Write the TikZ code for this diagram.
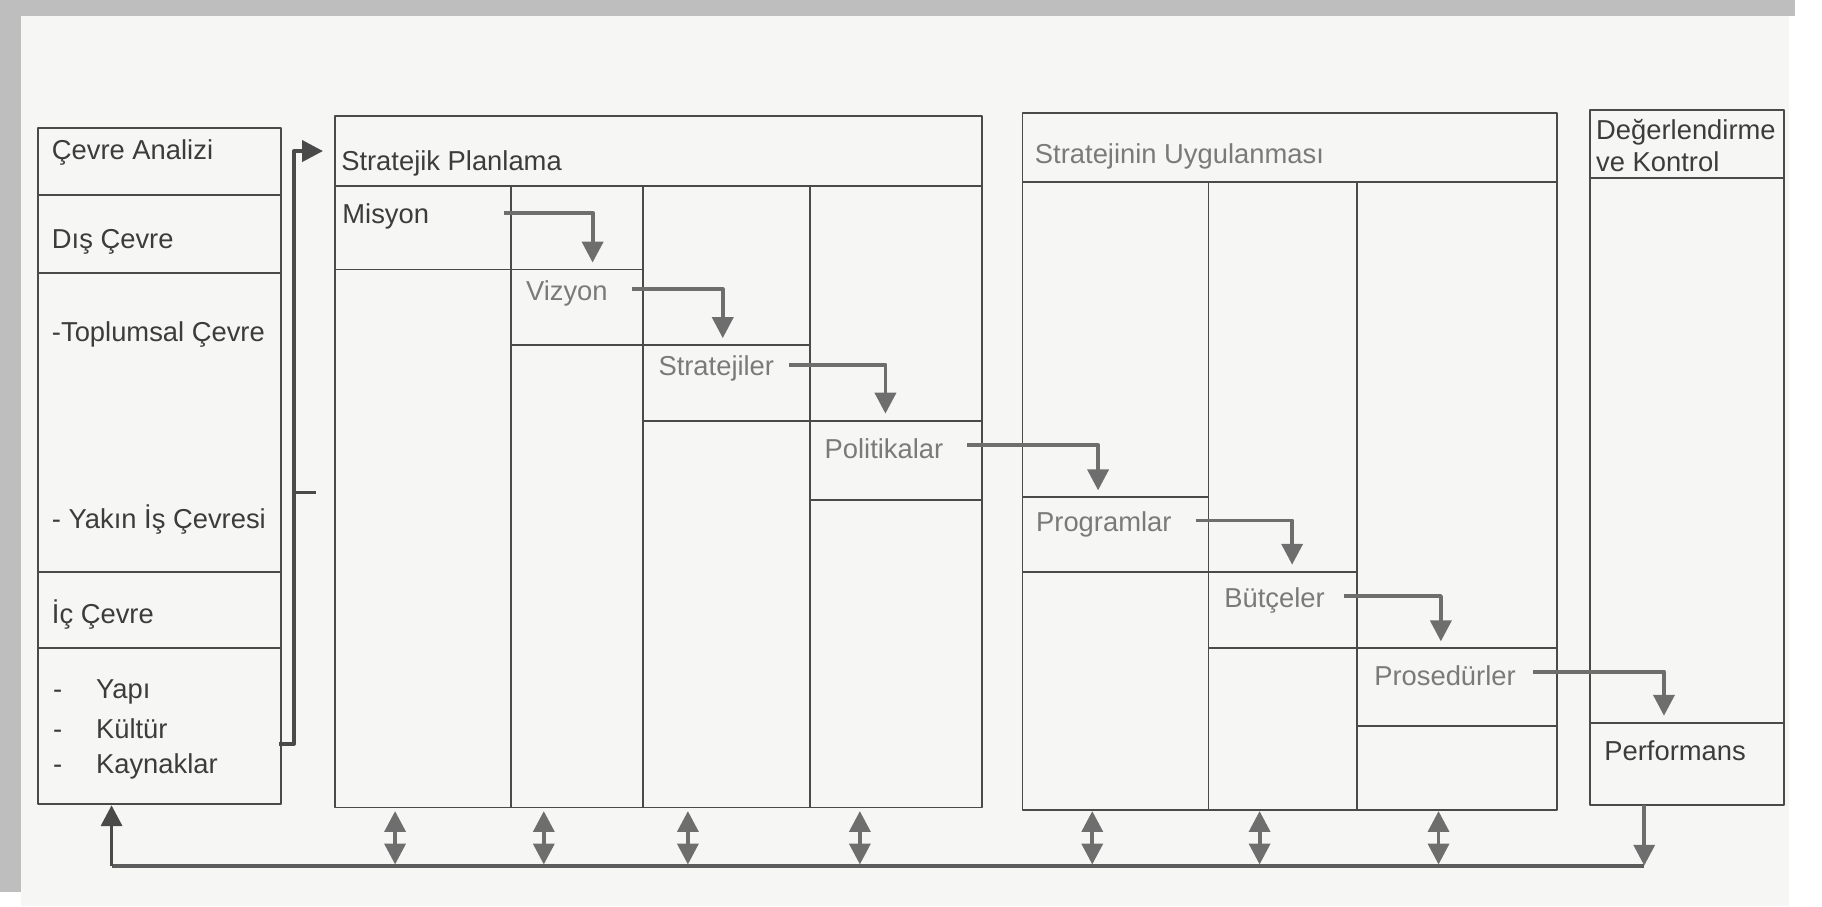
\documentclass[tikz,border=0pt]{standalone}
\usepackage{fontspec}
\setmainfont{Liberation Sans}
\usetikzlibrary{arrows.meta}

\definecolor{paper}{HTML}{F6F6F4}
\definecolor{band}{HTML}{BEBEBE}
\definecolor{linec}{HTML}{4A4A4A}
\definecolor{txtdark}{HTML}{3C3C3C}
\definecolor{txtgray}{HTML}{7A7A7A}
\definecolor{arrowc}{HTML}{6E6E6E}

\begin{document}
\begin{tikzpicture}[x=0.1mm, y=-0.1mm, font=\fontsize{6.7}{8}\selectfont, line join=round, >={Triangle[length=1.8mm,width=1.8mm]},
	box/.style={draw=linec, line width=0.45pt},
	lbl/.style={anchor=west, inner sep=0pt, text=txtdark, yshift=-0.35mm},
	lblg/.style={lbl, text=txtgray},
	flow/.style={draw=arrowc, line width=0.95pt, ->},
	both/.style={draw=arrowc, line width=0.95pt, <->}]
	% paper and scan edges
	\useasboundingbox (0,0) rectangle (1568,780);
	\fill[white] (0,0) rectangle (1568,780);
	\fill[paper] (18,14) rectangle (1540,780);
	\fill[band] (0,0) rectangle (1545,14);
	\fill[band] (0,0) rectangle (18,768);
	
	% Cevre analizi
	\draw[box] (33,110) rectangle (242,692);
	\foreach \y in {168,235,492,558} \draw[box] (33,\y) -- (242,\y);
	\node[lbl] (analiz) at (44,128) {Çevre Analizi};
	\node[lbl] (dis) at (44,205) {Dış Çevre};
	\node[lbl] (toplum) at (44,284) {-Toplumsal Çevre};
	\node[lbl] (yakin) at (44,444) {- Yakın İş Çevresi};
	\node[lbl] (ic) at (44,525) {İç Çevre};
	\foreach \t/\n/\y in {Yapı/yapi/592, Kültür/kultur/624, Kaynaklar/kaynak/656}{
		\node[lbl] at (45,\y) {\vphantom{\t}-};
		\node[lbl] (\n) at (82,\y) {\t};
	}
	
	% Stratejik planlama
	\draw[box] (288,100) rectangle (845,695);
	\draw[box] (288,160) -- (845,160);
	\foreach \x in {440,553,697} \draw[box] (\x,160) -- (\x,695);
	\draw[box] (288,232) -- (553,232);
	\draw[box] (440,297) -- (697,297);
	\draw[box] (553,362) -- (845,362);
	\draw[box] (697,430) -- (845,430);
	\node[lbl] (plan) at (293,137) {Stratejik Planlama};
	\node[lbl] (misyon) at (294,183) {Misyon};
	\node[lblg] (vizyon) at (452,249) {Vizyon};
	\node[lblg] (strat) at (566,314) {Stratejiler};
	\node[lblg] (polit) at (709,383) {Politikalar};
	
	% Stratejinin uygulanmasi
	\draw[box] (880,97) rectangle (1340,697);
	\draw[box] (880,157) -- (1340,157);
	\foreach \x in {1040,1168} \draw[box] (\x,157) -- (\x,697);
	\draw[box] (880,428) -- (1040,428);
	\draw[box] (880,492) -- (1168,492);
	\draw[box] (1040,558) -- (1340,558);
	\draw[box] (1168,625) -- (1340,625);
	\node[lblg] (uygula) at (890,131) {Stratejinin Uygulanması};
	\node[lblg] (program) at (891,448) {Programlar};
	\node[lblg] (butce) at (1053,513) {Bütçeler};
	\node[lblg] (prosed) at (1182,578) {Prosedürler};
	
	% Degerlendirme ve kontrol
	\draw[box] (1368,95) rectangle (1535,693);
	\draw[box] (1368,153) -- (1535,153);
	\draw[box] (1368,622) -- (1535,622);
	\node[lbl] (deger) at (1373,110) {Değerlendirme};
	\node[lbl] (kontrol) at (1373,136) {ve Kontrol};
	\node[lbl] (perf) at (1380,643) {Performans};
	
	% arrow targets
	\coordinate (tviz) at (510,226);
	\coordinate (tstr) at (622,291);
	\coordinate (tpol) at (762,356);
	\coordinate (tprg) at (945,422);
	\coordinate (tbut) at (1112,486);
	\coordinate (tpro) at (1240,552);
	\coordinate (tper) at (1432,616);
	\draw[flow] ([xshift=6.4mm,yshift=0.35mm]misyon.east) -| (tviz);
	\draw[flow] ([xshift=2mm,yshift=0.35mm]vizyon.east) -| (tstr);
	\draw[flow] ([xshift=1.2mm,yshift=0.35mm]strat.east) -| (tpol);
	\draw[flow] ([xshift=2mm,yshift=0.35mm]polit.east) -| (tprg);
	\draw[flow] ([xshift=2mm,yshift=0.35mm]program.east) -| (tbut);
	\draw[flow] ([xshift=1.6mm,yshift=0.35mm]butce.east) -| (tpro);
	\draw[flow] ([xshift=1.4mm,yshift=0.35mm]prosed.east) -| (tper);
	
	% bracket to planning
	\coordinate (brb) at (240,640);
	\coordinate (brt) at (278,130);
	\draw[linec, line width=1pt, ->] (brb) -- (253,640) |- (brt);
	\draw[linec, line width=0.8pt] (253,424) -- (272,424);
	
	% feedback
	\coordinate (fbl) at (96,745);
	\coordinate (fbr) at (1415,745);
	\coordinate (cevin) at (96,693);
	\coordinate (perfout) at (1415,693);
	\draw[linec!90, line width=0.95pt] (fbl) -- (fbr);
	\draw[flow, draw=linec] (fbl) -- (cevin);
	\draw[flow] (perfout) -- (fbr);
	\foreach \x in {340,468,592,740,940,1084,1238} \draw[both] (\x,698) -- (\x,744);
\end{tikzpicture}
\end{document}
